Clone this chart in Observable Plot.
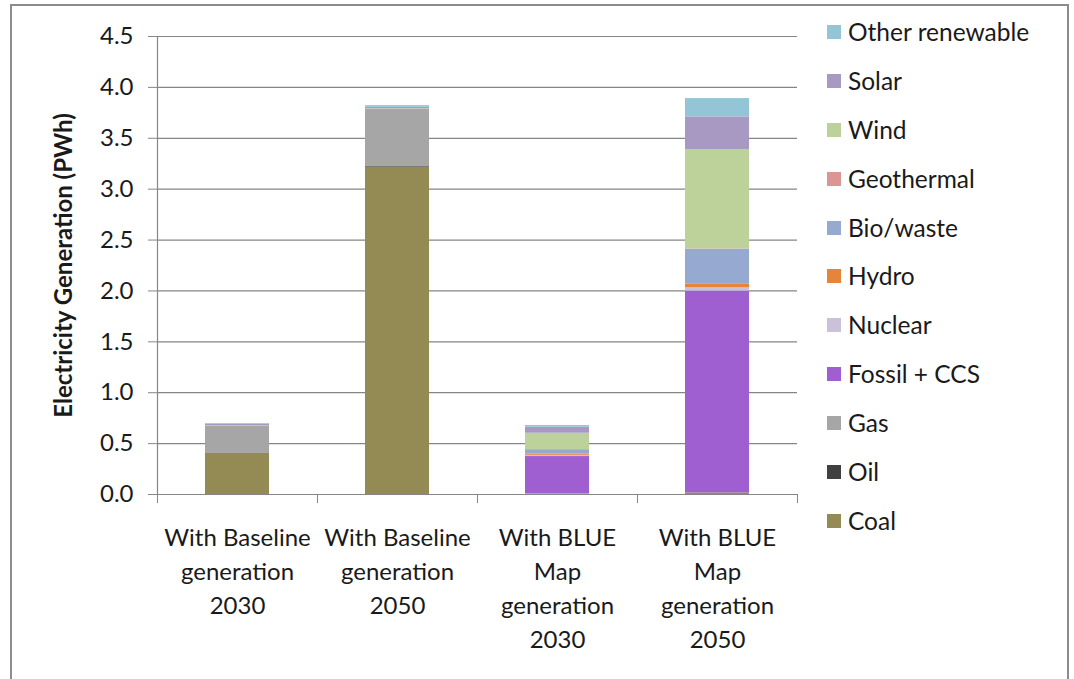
<!DOCTYPE html>
<html>
<head>
<meta charset="utf-8">
<script src="https://cdn.jsdelivr.net/npm/d3@7"></script>
<script src="https://cdn.jsdelivr.net/npm/@observablehq/plot@0.6"></script>
<style>
  html, body { margin: 0; padding: 0; background: #fff; }
  #wrap { position: relative; width: 1074px; height: 679px; overflow: hidden; font-family: Lato, "Open Sans", sans-serif; }
  #frame { position: absolute; left: 10px; top: 4px; width: 1059px; height: 700px; border: 2px solid #8c8c8c; box-sizing: border-box; }
  #chart { position: absolute; left: 0; top: 0; }
  #legend { position: absolute; left: 827px; top: 25px; }
  .item { height: 48.9px; display: flex; align-items: flex-start; }
  .sw { width: 14px; height: 14px; margin-top: 0px; }
  .lab { margin-left: 7px; font-size: 24.5px; line-height: 14px; color: #1a1a1a; white-space: nowrap; position: relative; top: 0px; }
</style>
</head>
<body>
<div id="wrap">
  <div id="frame"></div>
  <div id="chart"></div>
  <div id="legend"></div>
</div>
<script>
const categories = [
  "With Baseline\ngeneration\n2030",
  "With Baseline\ngeneration\n2050",
  "With BLUE\nMap\ngeneration\n2030",
  "With BLUE\nMap\ngeneration\n2050"
];
const sources = ["Coal", "Oil", "Gas", "Fossil + CCS", "Nuclear", "Hydro", "Bio/waste", "Geothermal", "Wind", "Solar", "Other renewable"];
const colors = ["#948a54", "#404040", "#a6a6a6", "#a05fd0", "#ccc1da", "#e6853a", "#95a9d1", "#d99694", "#bcd29a", "#a899c2", "#93c5d6"];

const coal           = [0.406, 3.217, 0.005, 0.015];
const oil            = [0.003, 0.010, 0.000, 0.000];
const gas            = [0.259, 0.557, 0.003, 0.000];
const fossilCCS      = [0.000, 0.000, 0.365, 1.983];
const nuclear        = [0.000, 0.000, 0.012, 0.032];
const hydro          = [0.002, 0.002, 0.013, 0.035];
const bioWaste       = [0.004, 0.003, 0.042, 0.345];
const geothermal     = [0.000, 0.000, 0.002, 0.003];
const wind           = [0.002, 0.002, 0.160, 0.977];
const solar          = [0.012, 0.013, 0.059, 0.320];
const otherRenewable = [0.008, 0.017, 0.017, 0.180];

const yTicks = [0, 0.5, 1.0, 1.5, 2.0, 2.5, 3.0, 3.5, 4.0, 4.5];
const yTitle = "Electricity Generation (PWh)";

const series = [coal, oil, gas, fossilCCS, nuclear, hydro, bioWaste, geothermal, wind, solar, otherRenewable];

// manual stacking (bottom to top in sources order)
const rows = [];
categories.forEach((c, i) => {
  let base = 0;
  sources.forEach((s, k) => {
    const v = series[k][i];
    rows.push({i, source: s, y1: base, y2: base + v});
    base += v;
  });
});

const grid = "#868686";

const plot = Plot.plot({
  width: 1074,
  height: 679,
  marginLeft: 157,
  marginRight: 277,
  marginTop: 36,
  marginBottom: 185,
  style: {fontFamily: "Lato, 'Open Sans', sans-serif", color: "#1a1a1a", background: "transparent"},
  x: {domain: [0, 4], axis: null},
  y: {domain: [0, 4.5], axis: null},
  color: {domain: sources, range: colors},
  marks: [
    Plot.ruleY(yTicks, {stroke: grid, strokeWidth: 1.2}),
    Plot.ruleX([0], {stroke: grid, strokeWidth: 1.2}),
    Plot.axisY({ticks: yTicks, tickFormat: d3.format(".1f"), tickSize: 9, tickPadding: 15, fontSize: 24, stroke: grid, label: null}),
    Plot.axisX({ticks: [0, 1, 2, 3, 4], tickSize: 9, tickFormat: () => "", stroke: grid, label: null}),
    Plot.rect(rows, {x1: d => d.i, x2: d => d.i + 1, y1: "y1", y2: "y2", fill: "source", insetLeft: 48, insetRight: 48}),
    Plot.text(categories, {x: (d, i) => i + 0.5, y: 0, dy: 27, lineAnchor: "top", lineHeight: 1.42, fontSize: 24, fill: "#1a1a1a"}),
    Plot.text([yTitle], {frameAnchor: "left", textAnchor: "middle", rotate: -90, dx: -93, fontWeight: "bold", fontSize: 24, fill: "#1a1a1a"})
  ]
});
document.getElementById("chart").appendChild(plot);

const legend = document.getElementById("legend");
sources.slice().reverse().forEach((s) => {
  const k = sources.indexOf(s);
  const item = document.createElement("div");
  item.className = "item";
  const sw = document.createElement("div");
  sw.className = "sw";
  sw.style.background = colors[k];
  const lab = document.createElement("div");
  lab.className = "lab";
  lab.textContent = s;
  item.appendChild(sw);
  item.appendChild(lab);
  legend.appendChild(item);
});
</script>
</body>
</html>
